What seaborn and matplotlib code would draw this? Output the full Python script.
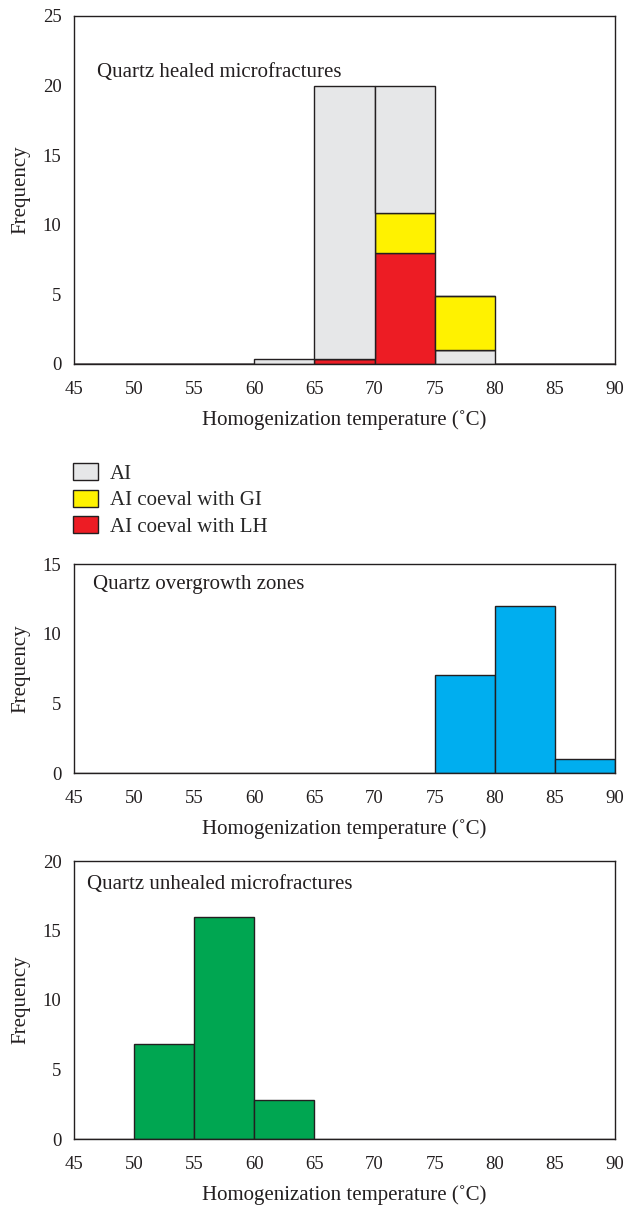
import numpy as np
import pandas as pd
import matplotlib
matplotlib.use("Agg")
import matplotlib.pyplot as plt
import seaborn as sns

# ---------------- data ----------------
bin_edges = [45, 50, 55, 60, 65, 70, 75, 80, 85, 90]
x_ticks = [45, 50, 55, 60, 65, 70, 75, 80, 85, 90]

# Quartz healed microfractures (stacked segments, listed top -> bottom of stack)
ai_upper_counts = [0, 0, 0, 0.38, 19.65, 9.1, 0, 0, 0]
ai_gi_counts = [0, 0, 0, 0, 0, 2.9, 3.9, 0, 0]
ai_lh_counts = [0, 0, 0, 0, 0.35, 7.95, 0, 0, 0]
ai_lower_counts = [0, 0, 0, 0, 0, 0, 1.0, 0, 0]
series_names = ["AI", "AI coeval with GI", "AI coeval with LH", "AI (base)"]
series_colors = ["#E6E7E8", "#FFF200", "#ED1C24", "#E6E7E8"]

# Quartz overgrowth zones
overgrowth_counts = [0, 0, 0, 0, 0, 0, 7.0, 11.95, 1.0]
# Quartz unhealed microfractures
unhealed_counts = [0, 6.85, 16.0, 2.8, 0, 0, 0, 0, 0]

panel_titles = ["Quartz healed microfractures", "Quartz overgrowth zones",
                "Quartz unhealed microfractures"]
y_limits = [25, 15, 20]
y_ticks = [[0, 5, 10, 15, 20, 25], [0, 5, 10, 15], [0, 5, 10, 15, 20]]
xlabel = "Homogenization temperature (˚C)"
ylabel = "Frequency"

# ---------------- style ----------------
sns.set_theme(style="white")
plt.rcParams["font.family"] = ["Liberation Serif", "DejaVu Serif"]
FS = 15
TFS = 13.5
EDGE = "#231F20"
INK = "#231F20"

W, H = 627, 1208
fig = plt.figure(figsize=(W / 100, H / 100), dpi=100)


def axes_px(left, right, top, bottom):
    return fig.add_axes([left / W, 1 - bottom / H, (right - left) / W, (bottom - top) / H])


ax1 = axes_px(74, 615, 16, 364)
ax2 = axes_px(74, 615, 564, 773)
ax3 = axes_px(74, 615, 861, 1139)

centers = [(a + b) / 2 for a, b in zip(bin_edges[:-1], bin_edges[1:])]

# top panel stacked
rows = []
for name, vals in zip(series_names,
                      [ai_upper_counts, ai_gi_counts, ai_lh_counts, ai_lower_counts]):
    for c, v in zip(centers, vals):
        if v > 0:
            rows.append({"temp": c, "count": v, "type": name})
df_top = pd.DataFrame(rows)
sns.histplot(data=df_top, x="temp", weights="count", hue="type",
             hue_order=series_names, palette=series_colors, bins=bin_edges,
             multiple="stack", alpha=1, edgecolor=EDGE, linewidth=1.0,
             ax=ax1, legend=True)

df_mid = pd.DataFrame({"temp": centers, "count": overgrowth_counts})
df_mid = df_mid[df_mid["count"] > 0]
sns.histplot(data=df_mid, x="temp", weights="count", bins=bin_edges,
             color="#00AEEF", alpha=1, edgecolor=EDGE, linewidth=1.0, ax=ax2)

df_bot = pd.DataFrame({"temp": centers, "count": unhealed_counts})
df_bot = df_bot[df_bot["count"] > 0]
sns.histplot(data=df_bot, x="temp", weights="count", bins=bin_edges,
             color="#00A651", alpha=1, edgecolor=EDGE, linewidth=1.0, ax=ax3)

text_pos = [(97, 72), (93, 585), (87, 884)]
for ax, title, ylim, yt, tp in zip([ax1, ax2, ax3], panel_titles, y_limits, y_ticks, text_pos):
    ax.set_xlim(45, 90)
    ax.set_ylim(0, ylim)
    ax.set_xticks(x_ticks)
    ax.set_yticks(yt)
    ax.tick_params(axis="both", direction="out", length=4, width=1, color=INK,
                   labelsize=TFS, labelcolor=INK)
    ax.tick_params(axis="x", pad=8)
    ax.tick_params(axis="y", pad=5)
    for s in ax.spines.values():
        s.set_visible(True)
        s.set_color(INK)
        s.set_linewidth(1.0)
    ax.set_xlabel(xlabel, fontsize=FS, color=INK, labelpad=9)
    ax.set_ylabel(ylabel, fontsize=FS, color=INK, labelpad=9)
    fig.text(tp[0] / W, 1 - tp[1] / H, title, fontsize=FS, color=INK,
             ha="left", va="center")

leg = ax1.get_legend()
handles = list(leg.legend_handles)[:3]
labels = [t.get_text() for t in leg.get_texts()][:3]
leg.remove()
ax1.legend(handles, labels, loc="upper left", bbox_to_anchor=(69 / W, 1 - 459 / H),
           bbox_transform=fig.transFigure, frameon=False, fontsize=FS,
           handlelength=1.2, handleheight=0.88, handletextpad=0.55,
           labelspacing=0.28, borderaxespad=0, borderpad=0.2)

fig.savefig("out.png", dpi=100, facecolor="white")
